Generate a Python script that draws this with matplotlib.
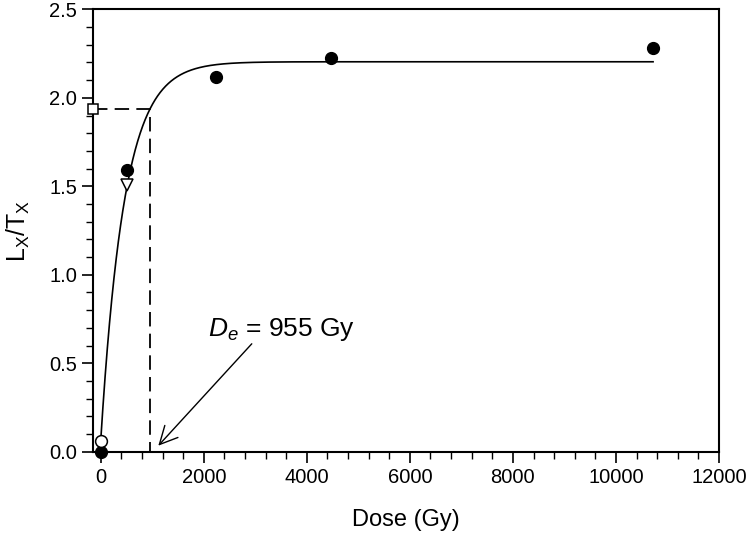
import numpy as np
import matplotlib
matplotlib.use("Agg")
from matplotlib import pyplot as plt
from matplotlib.ticker import MultipleLocator

plt.rcParams["font.family"] = ["Liberation Sans", "DejaVu Sans"]
plt.rcParams["mathtext.fontset"] = "custom"
plt.rcParams["mathtext.rm"] = "Liberation Sans"
plt.rcParams["mathtext.it"] = "Liberation Sans:italic"

# regenerated doses (filled circles)
dose = [0, 505, 2240, 4470, 10720]
ratio = [0.0, 1.594, 2.118, 2.228, 2.284]

# recycled / natural points
recycle_dose = [0]
recycle_ratio = [0.06]
interp_dose = [505]
interp_ratio = [1.51]
natural_ratio = 1.936
De = 955

# saturating exponential fit  y = A (1 - exp(-(x + c) / D0))
A, D0, c = 2.204, 459.0, 12.7
fit_range = (0, 10720)

xmin, xmax = -150, 12000

fig = plt.figure(figsize=(7.54, 5.37), dpi=100)
ax = fig.add_axes([0.1233, 0.1588, 0.8303, 0.8237])

xf = np.linspace(fit_range[0], fit_range[1], 2000)
ax.plot(xf, A * (1 - np.exp(-(xf + c) / D0)), '-', c='black', lw=1.2, zorder=2)

ax.plot([xmin, De, De], [natural_ratio, natural_ratio, 0], '--', c='black',
        lw=1.3, dashes=(8, 4), zorder=1)

ax.plot(dose, ratio, 'o', c='black', ms=8.5, clip_on=False, zorder=4)
ax.plot(recycle_dose, recycle_ratio, 'o', mfc='white', mec='black', mew=1.1,
        ms=8.5, clip_on=False, zorder=5)
ax.plot(interp_dose, interp_ratio, 'v', mfc='white', mec='black', mew=1.1,
        ms=8, zorder=3)
ax.plot([xmin], [natural_ratio], 's', mfc='white', mec='black', mew=1.1,
        ms=7.5, clip_on=False, zorder=5)

ax.text(2083, 0.656, r"$D_e$ = 955 Gy", fontsize=19, ha='left', va='baseline')
ax.annotate("", xy=(1118, 0.034), xytext=(2932, 0.61),
            arrowprops=dict(arrowstyle='->', lw=1.0, color='black',
                            mutation_scale=32, shrinkA=0, shrinkB=0))

ax.set_xlim(xmin, xmax)
ax.set_ylim(0, 2.5)
ax.xaxis.set_major_locator(MultipleLocator(2000))
ax.xaxis.set_minor_locator(MultipleLocator(400))
ax.yaxis.set_major_locator(MultipleLocator(0.5))
ax.yaxis.set_minor_locator(MultipleLocator(0.1))
ax.yaxis.set_major_formatter(matplotlib.ticker.FormatStrFormatter('%.1f'))

ax.tick_params(which='major', direction='out', length=8, width=1.2,
               labelsize=14.5, top=False, right=False)
ax.tick_params(which='minor', direction='out', length=5, width=1.0,
               top=False, right=False)
for s in ax.spines.values():
    s.set_linewidth(1.5)

ax.set_xlabel("Dose (Gy)", fontsize=17, labelpad=16)
ax.set_ylabel(r"L$_\mathregular{X}$/T$_\mathregular{X}$", fontsize=18, labelpad=12)

fig.savefig("out.png", dpi=100)
